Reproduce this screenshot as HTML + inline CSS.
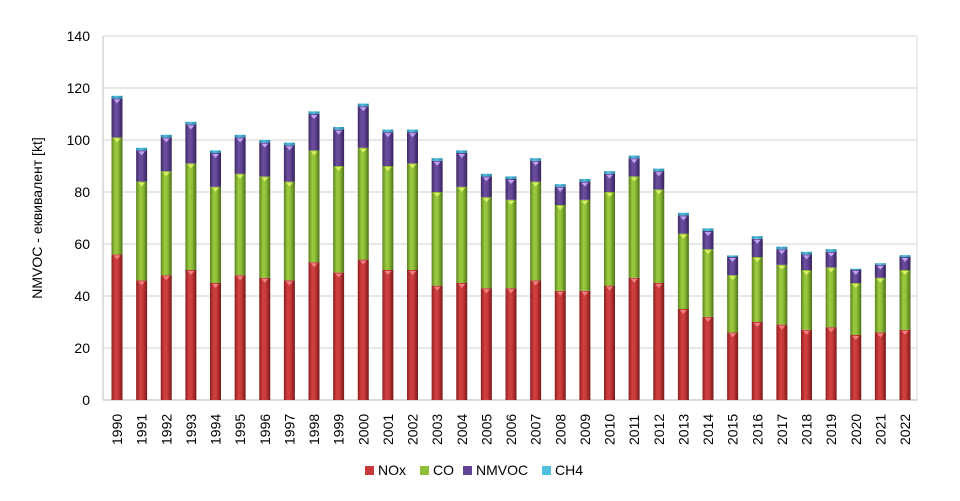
<!DOCTYPE html><html><head><meta charset="utf-8"><style>body{margin:0;background:#fff}svg{display:block;font-family:"Liberation Sans",sans-serif}</style></head><body>
<svg id="s" width="960" height="501" xmlns="http://www.w3.org/2000/svg">
<defs>
<linearGradient id="r" x1="0" x2="1"><stop offset="0" stop-color="#8e1f1f"/><stop offset="0.35" stop-color="#d24040"/><stop offset="0.6" stop-color="#c83a3a"/><stop offset="1" stop-color="#7a1818"/></linearGradient>
<linearGradient id="g" x1="0" x2="1"><stop offset="0" stop-color="#5e8420"/><stop offset="0.35" stop-color="#9bcb40"/><stop offset="0.6" stop-color="#8fbf38"/><stop offset="1" stop-color="#4e7218"/></linearGradient>
<linearGradient id="p" x1="0" x2="1"><stop offset="0" stop-color="#3e2a66"/><stop offset="0.35" stop-color="#6c4e9e"/><stop offset="0.6" stop-color="#634596"/><stop offset="1" stop-color="#35225a"/></linearGradient>
<linearGradient id="c" x1="0" x2="1"><stop offset="0" stop-color="#2a8aaa"/><stop offset="0.4" stop-color="#4fc0e0"/><stop offset="1" stop-color="#2a8aaa"/></linearGradient>
</defs>
<g id="grid"></g><g id="bars"></g>
<text transform="translate(42,218) rotate(-90)" text-anchor="middle" font-size="14" fill="#000">NMVOC - еквивалент [kt]</text>
<g font-size="14">
<rect x="365" y="466" width="9" height="9" fill="#c83a3a"/><text x="378" y="475">NOx</text>
<rect x="420" y="466" width="9" height="9" fill="#8fbf38"/><text x="433" y="475">CO</text>
<rect x="463" y="466" width="9" height="9" fill="#634596"/><text x="476" y="475">NMVOC</text>
<rect x="542" y="466" width="9" height="9" fill="#4fc0e0"/><text x="555" y="475">CH4</text>
</g>
</svg>
<script>
const d=[[56,101,116,117],[46,84,96,97],[48,88,101,102],[50,91,106,107],[45,82,95,96],[48,87,101,102],[47,86,99,100],[46,84,98,99],[53,96,110,111],[49,90,104,105],[54,97,113,114],[50,90,103,104],[50,91,103,104],[44,80,92,93],[45,82,95,96],[43,78,86,87],[43,77,85,86],[46,84,92,93],[42,75,82,83],[42,77,84,85],[44,80,87,88],[47,86,93,94],[45,81,88,89],[35,64,71,72],[32,58,65,66],[26,48,55,55.6],[30,55,62,63],[29,52,58,59],[27,50,56,57],[28,51,57,58],[25,45,50,50.5],[26,47,52,52.6],[27,50,55,55.7]];
const Y=v=>400-v*2.6;let g='',b='';
for(let v=0;v<=140;v+=20){g+=`<line x1="103" x2="917" y1="${Y(v)}" y2="${Y(v)}" stroke="#d9d9d9" stroke-width="1.3"/><text x="90" y="${Y(v)+5}" text-anchor="end" font-size="14">${v}</text>`;}
g+=`<line x1="103" x2="103" y1="36" y2="400" stroke="#bfbfbf"/><line x1="917" x2="917" y1="36" y2="400" stroke="#d9d9d9"/><line x1="103" x2="917" y1="400" y2="400" stroke="#bfbfbf"/>`;
const f=['r','g','p','c'],tc=['#f08080','#d8f060','#c0a0f0'];
d.forEach((r,i)=>{const cx=117+i*24.625,x=cx-5.5,w=11;let lo=0;
r.forEach((t,k)=>{b+=`<rect x="${x}" y="${Y(t)}" width="${w}" height="${Y(lo)-Y(t)}" fill="url(#${f[k]})"/>`;lo=t;});
[0,1,2].forEach(k=>{const yy=Y(r[k]);b+=`<polygon points="${x+2},${yy+1} ${x+w-2},${yy+1} ${cx},${yy+5}" fill="${tc[k]}"/>`;});
b+=`<text transform="translate(${cx+5},445) rotate(-90)" font-size="14">${1990+i}</text>`;});
document.getElementById('grid').innerHTML=g;document.getElementById('bars').innerHTML=b;
</script>
</body></html>
